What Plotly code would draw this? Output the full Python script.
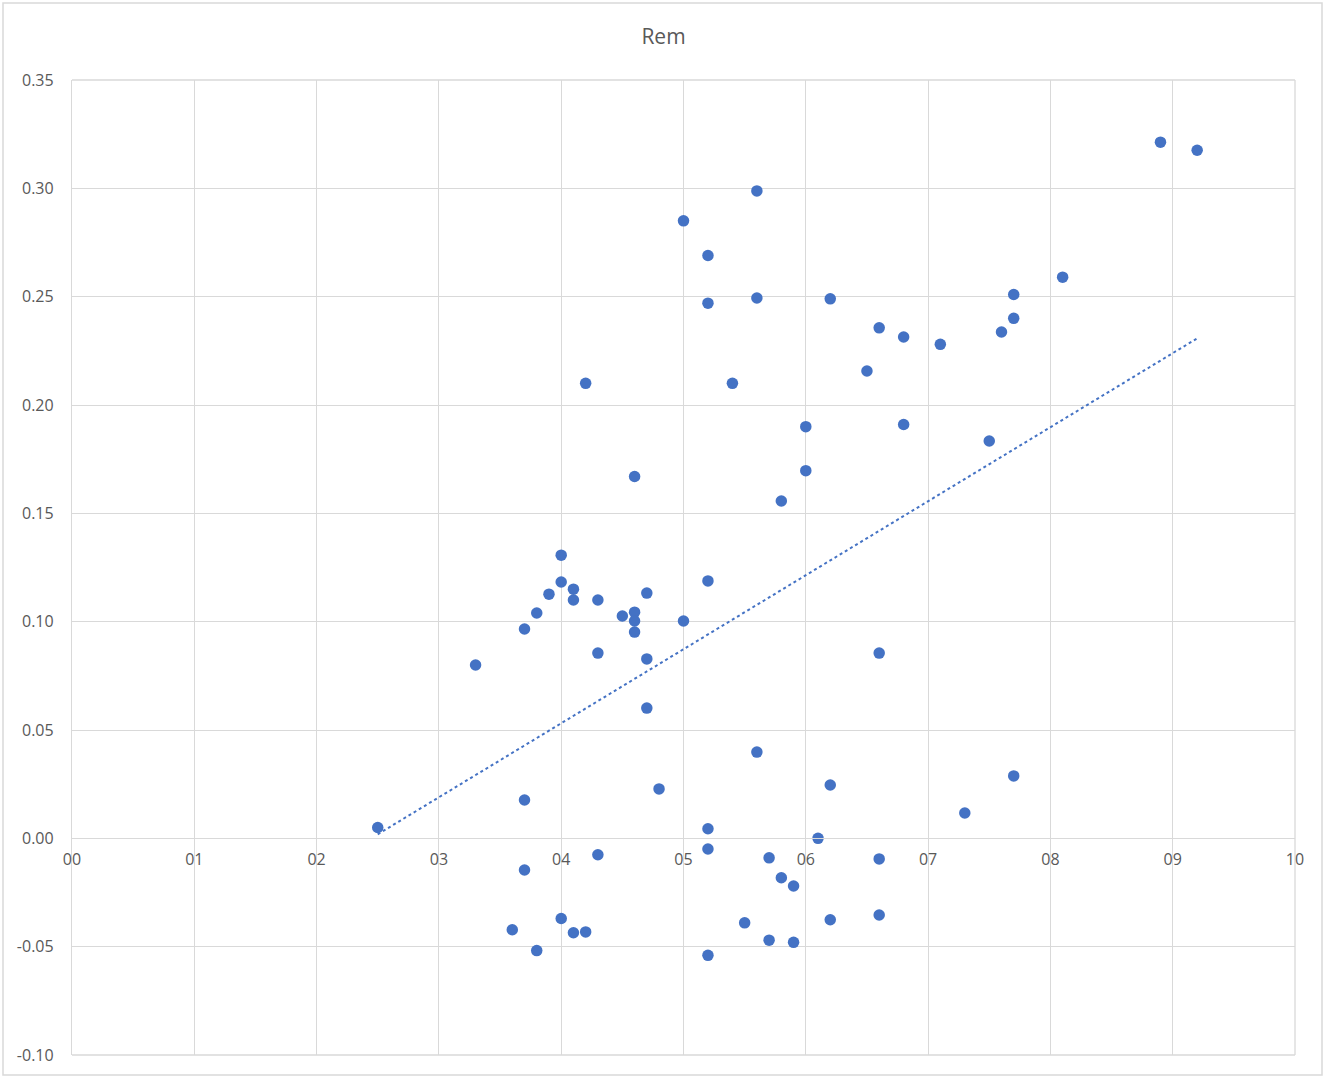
import numpy as np
import plotly.graph_objects as go

# Data
x_vals = [2.5, 3.3, 3.7, 3.7, 3.7, 3.8, 3.9, 4.0, 4.0, 4.1, 4.1, 4.2, 4.3, 4.3, 4.3,
          4.5, 4.6, 4.6, 4.6, 4.6, 4.7, 4.7, 4.7, 4.8, 5.0, 5.0, 5.2, 5.2, 5.2, 5.2,
          5.2, 5.2, 5.4, 5.5, 5.6, 5.6, 5.6, 5.7, 5.7, 5.8, 5.8, 5.9, 5.9, 6.0, 6.0,
          6.1, 6.2, 6.2, 6.2, 6.5, 6.6, 6.6, 6.6, 6.6, 6.8, 6.8, 7.1, 7.3, 7.5, 7.6,
          7.7, 7.7, 7.7, 8.1, 8.9, 9.2, 3.6, 3.8, 4.0, 4.1, 4.2]
y_vals = [0.005, 0.080, 0.0966, 0.0177, -0.0146, 0.104, 0.1127, 0.1307, 0.1183, 0.115,
          0.110, 0.210, 0.110, 0.0855, -0.0076, 0.1026, 0.167, 0.1044, 0.1003, 0.0952,
          0.1132, 0.0828, 0.0601, 0.0228, 0.285, 0.1003, 0.269, 0.247, 0.1188, 0.0044,
          -0.0049, -0.054, 0.210, -0.039, 0.2988, 0.2494, 0.0398, -0.009, -0.047, 0.1557,
          -0.0182, -0.022, -0.048, 0.190, 0.1697, 0.000, 0.249, 0.0246, -0.0376, 0.2157,
          0.2356, 0.0855, -0.0095, -0.0354, 0.2314, 0.191, 0.228, 0.0117, 0.1834, 0.2337,
          0.251, 0.240, 0.0288, 0.259, 0.3213, 0.3176, -0.0422, -0.0518, -0.037, -0.0436,
          -0.0432]
title_text = "Rem"
y_tickvals = [-0.10, -0.05, 0.00, 0.05, 0.10, 0.15, 0.20, 0.25, 0.30, 0.35]
y_ticktext = ["-0.10", "-0.05", "0.00", "0.05", "0.10", "0.15", "0.20", "0.25", "0.30", "0.35"]

# Linear trendline (least squares) over the data's x range
slope, intercept = np.polyfit(x_vals, y_vals, 1)
tx = [min(x_vals), max(x_vals)]
ty = [slope * v + intercept for v in tx]

BLUE = "#4472C4"
GRID = "#d9d9d9"
TXT = "#595959"
FONT = "Open Sans"

fig = go.Figure()
fig.add_trace(go.Scatter(x=x_vals, y=y_vals, mode="markers",
                         marker=dict(color=BLUE, size=11.5, line=dict(width=0)),
                         showlegend=False, hoverinfo="x+y"))
fig.add_trace(go.Scatter(x=tx, y=ty, mode="lines",
                         line=dict(color=BLUE, width=2, dash="dot"),
                         showlegend=False, hoverinfo="skip"))

y_min, y_max = -0.10, 0.35
zero_pos = (0 - y_min) / (y_max - y_min)

fig.update_layout(
    width=1327, height=1079,
    margin=dict(l=72, r=32, t=80, b=24),
    paper_bgcolor="white", plot_bgcolor="white",
    font=dict(family=FONT, color=TXT, size=16),
    title=dict(text=title_text, x=0.5, xanchor="center", y=1 - 37 / 1079, yanchor="middle",
               font=dict(family=FONT, size=21, color=TXT)),
    xaxis=dict(range=[0, 10], dtick=1, tick0=0, tickformat="02d",
               showgrid=True, gridcolor=GRID, gridwidth=1.3,
               zeroline=False, showline=True, linecolor=GRID, linewidth=1.3,
               anchor="free", position=zero_pos,
               ticks="", ticklabelstandoff=6,
               tickfont=dict(family=FONT, size=16, color=TXT)),
    yaxis=dict(range=[y_min, y_max], tickmode="array",
               tickvals=y_tickvals, ticktext=y_ticktext,
               showgrid=True, gridcolor=GRID, gridwidth=1.3,
               zeroline=False, showline=True, linecolor=GRID, linewidth=1.3,
               ticks="", ticklabelstandoff=14,
               tickfont=dict(family=FONT, size=16, color=TXT)),
    shapes=[
        dict(type="rect", xref="paper", yref="paper",
             x0=(3 - 72) / 1223, x1=(1322 - 72) / 1223,
             y0=(1055 - 1075) / 975, y1=(1055 - 3) / 975,
             line=dict(color=GRID, width=1.5), fillcolor="rgba(0,0,0,0)", layer="below"),
        dict(type="line", xref="paper", yref="paper", x0=1, x1=1, y0=0, y1=1,
             line=dict(color=GRID, width=1.3), layer="below"),
        dict(type="line", xref="paper", yref="paper", x0=0, x1=1, y0=1, y1=1,
             line=dict(color=GRID, width=1.3), layer="below"),
        dict(type="line", xref="paper", yref="paper", x0=0, x1=1, y0=0, y1=0,
             line=dict(color=GRID, width=1.3), layer="below"),
    ],
)

fig.write_html("out.html")
